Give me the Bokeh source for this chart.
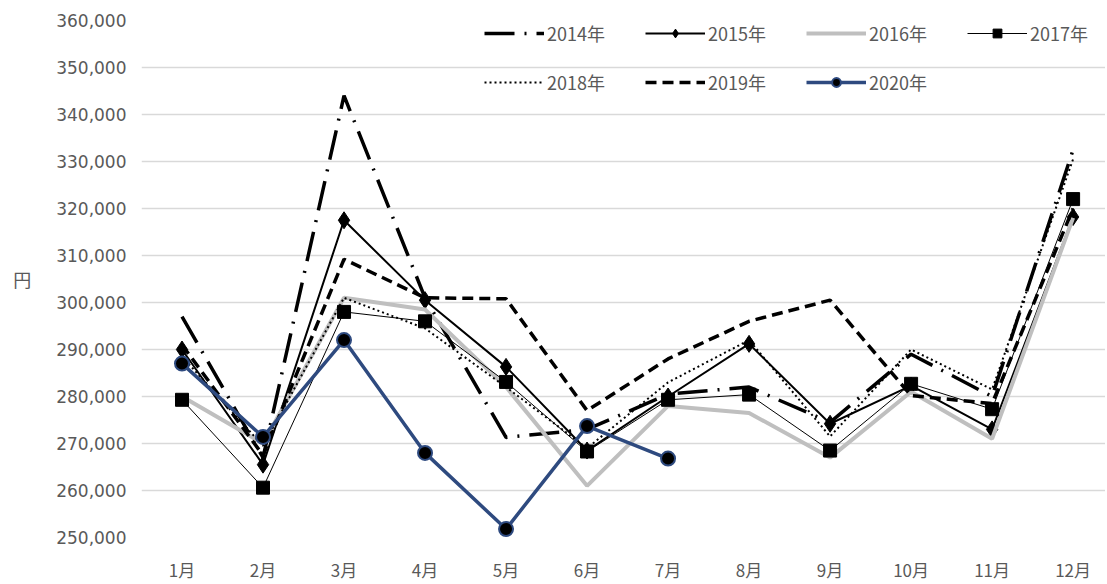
from bokeh.plotting import figure
from bokeh.models import (Range1d, FixedTicker, NumeralTickFormatter, Legend, LegendItem)
from bokeh.embed import file_html
from bokeh.resources import INLINE

months = ["1月", "2月", "3月", "4月", "5月", "6月", "7月", "8月", "9月", "10月", "11月", "12月"]
y2014 = [297000, 267000, 344000, 301000, 271300, 273000, 280500, 282000, 274500, 289000, 280000, 332500]
y2015 = [290000, 265500, 317500, 300500, 286300, 268500, 280000, 291200, 274200, 282300, 273000, 318200]
y2016 = [280000, 270000, 301000, 298500, 282000, 261000, 278000, 276500, 267000, 281000, 271000, 318000]
y2017 = [279300, 260600, 298000, 296000, 283100, 268300, 279300, 280400, 268500, 282700, 277300, 322000]
y2018 = [288500, 269500, 301000, 294500, 282000, 269000, 283000, 292000, 271500, 290000, 281500, 330500]
y2019 = [291000, 267500, 309200, 301000, 300800, 277000, 288000, 296000, 300500, 280200, 278500, 320000]
y2020 = [287000, 271400, 292000, 268000, 251800, 273700, 266800]
y_ticks = list(range(250000, 360001, 10000))

TEXT = "#595959"
FONT = "DejaVu Sans"
CJK = "Noto Sans CJK JP"

xs = list(range(1, 13))

p = figure(width=1105, height=584, output_backend="svg", toolbar_location=None,
           x_range=Range1d(0.5, 12.4), y_range=Range1d(250000, 360000),
           min_border_left=141, min_border_right=0, min_border_top=20, min_border_bottom=44)
p.outline_line_color = None
p.background_fill_color = "white"

p.xgrid.visible = False
p.ygrid.grid_line_color = "#d9d9d9"
p.ygrid.grid_line_width = 1.3

p.yaxis.ticker = FixedTicker(ticks=y_ticks)
p.yaxis.formatter = NumeralTickFormatter(format="0,0")
p.xaxis.ticker = FixedTicker(ticks=xs)
p.xaxis.major_label_overrides = {i + 1: m for i, m in enumerate(months)}
for ax in (p.xaxis[0], p.yaxis[0]):
    ax.axis_line_color = None
    ax.major_tick_line_color = None
    ax.minor_tick_line_color = None
    ax.major_tick_out = 0
    ax.major_tick_in = 0
    ax.major_label_text_color = TEXT
    ax.major_label_text_font_size = "17px"
p.yaxis.major_label_text_font = FONT
p.yaxis.major_label_standoff = 15
p.xaxis.major_label_text_font = CJK
p.xaxis.major_label_standoff = 19

p.yaxis.axis_label = "円"
p.yaxis.axis_label_text_font = CJK
p.yaxis.axis_label_text_font_size = "18px"
p.yaxis.axis_label_text_font_style = "normal"
p.yaxis.axis_label_text_color = TEXT
p.yaxis.axis_label_standoff = 22
try:
    p.yaxis.axis_label_orientation = "horizontal"
except Exception:
    pass

items = {}
r = p.line(xs, y2014, line_color="black", line_width=3.5, line_dash="30 10 2 10")
items["2014"] = LegendItem(label="2014年", renderers=[r])

r1 = p.line(xs, y2015, line_color="black", line_width=2)
r2 = p.scatter(xs, y2015, marker="diamond", size=17, fill_color="black", line_color="black")
items["2015"] = LegendItem(label="2015年", renderers=[r1, r2])

r = p.line(xs, y2016, line_color="#bfbfbf", line_width=4)
items["2016"] = LegendItem(label="2016年", renderers=[r])

r1 = p.line(xs, y2017, line_color="black", line_width=1)
r2 = p.scatter(xs, y2017, marker="square", size=13, fill_color="black", line_color="black")
items["2017"] = LegendItem(label="2017年", renderers=[r1, r2])

r = p.line(xs, y2018, line_color="black", line_width=2, line_dash="2 3")
items["2018"] = LegendItem(label="2018年", renderers=[r])

r = p.line(xs, y2019, line_color="black", line_width=3.5, line_dash="11 6")
items["2019"] = LegendItem(label="2019年", renderers=[r])

BLUE = "#2E4A7F"
r1 = p.line(xs[:len(y2020)], y2020, line_color=BLUE, line_width=3.5)
r2 = p.scatter(xs[:len(y2020)], y2020, marker="circle", size=14, fill_color="black",
               line_color=BLUE, line_width=2)
items["2020"] = LegendItem(label="2020年", renderers=[r1, r2])

# legend fills column by column: order so rows read 2014..2017 / 2018..2020
order = ["2014", "2018", "2015", "2019", "2016", "2020", "2017"]
leg = Legend(items=[items[k] for k in order], location="top_right", ncols=4)
leg.background_fill_alpha = 0
leg.border_line_alpha = 0
leg.label_text_font = CJK
leg.label_text_font_size = "18px"
leg.label_text_color = TEXT
leg.glyph_width = 60
leg.glyph_height = 22
leg.label_standoff = 3
leg.spacing = 23
leg.label_height = 22
leg.label_width = 75
leg.margin = 0
leg.padding = 0
p.add_layout(leg)

open("out.html", "w").write(file_html(p, INLINE))
